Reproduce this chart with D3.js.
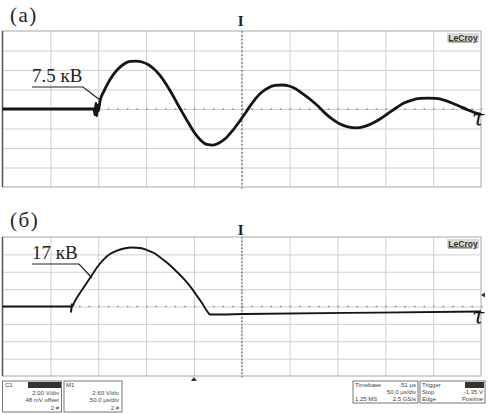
<!DOCTYPE html>
<html><head><meta charset="utf-8">
<script src="https://cdn.jsdelivr.net/npm/d3@7"></script>
<style>
html,body{margin:0;padding:0;background:#fff;}
svg{display:block;}
</style></head>
<body>
<svg id="c" width="488" height="414"></svg>
<script>
// time in µs (50 µs/div, 10 div), amplitude in screen divisions
const topT = [0, 95.61, 96.66, 97.70, 98.43, 99.27, 100.10, 101.88, 106.06, 110.24, 115.46, 120.69, 126.96, 133.23, 139.50, 145.77, 152.04, 158.31, 164.58, 170.85, 177.12, 182.34, 187.56, 193.84, 200.10, 206.37, 213.68, 219.95, 226.22, 233.54, 240.86, 247.13, 252.35, 258.61, 264.89, 271.15, 277.43, 284.73, 292.06, 299.37, 306.69, 314.0, 322.36, 329.68, 336.99, 344.30, 352.66, 361.02, 369.38, 377.74, 386.10, 394.45, 402.82, 411.18, 419.53, 427.90, 436.25, 444.62, 452.98, 461.34, 469.70, 478.06, 486.42, 494.77, 500];
const topV = [0, 0, -0.3, 0.3, -0.35, 0.2, -0.1, 0.41, 0.92, 1.33, 1.74, 2.05, 2.31, 2.44, 2.46, 2.41, 2.28, 2.05, 1.72, 1.28, 0.77, 0.31, -0.15, -0.67, -1.18, -1.56, -1.82, -1.85, -1.74, -1.49, -1.08, -0.67, -0.31, 0.15, 0.56, 0.87, 1.08, 1.21, 1.23, 1.18, 1.03, 0.77, 0.46, 0.15, -0.21, -0.51, -0.77, -0.92, -0.97, -0.90, -0.74, -0.51, -0.23, 0.05, 0.31, 0.46, 0.54, 0.56, 0.54, 0.46, 0.31, 0.13, -0.05, -0.21, -0.28];
const botT = [0, 72.62, 75.76, 80.98, 87.25, 93.52, 99.79, 106.06, 112.33, 119.64, 126.96, 135.32, 143.68, 150.99, 158.31, 165.62, 172.94, 180.25, 187.56, 194.87, 202.20, 208.45, 213.68, 216.82, 220.0, 252.35, 391.32, 500];
const botV = [0, 0, 0.32, 0.78, 1.29, 1.81, 2.33, 2.73, 3.02, 3.22, 3.34, 3.40, 3.37, 3.25, 3.08, 2.79, 2.47, 2.10, 1.70, 1.24, 0.69, 0.20, -0.26, -0.46, -0.46, -0.43, -0.35, -0.29];
const gridT = [50, 100, 150, 200, 250, 300, 350, 400, 450];
const gridV = [-3, -2, -1, 0, 1, 2, 3];
const panelLabels = ["(а)", "(б)"];
const peakLabels = ["7.5 кВ", "17 кВ"];
const infoC1 = ["C1", "2.00 V/div", "48 mV offset", "2 #"];
const infoM1 = ["M1", "2.60 V/div", "50.0 µs/div", "2 #"];
const infoTb = [["Timebase", "-51 µs"], ["", "50.0 µs/div"], ["1.25 MS", "2.5 GS/s"]];
const infoTr = [["Trigger", ""], ["Stop", "-1.35 V"], ["Edge", "Positive"]];

const svg = d3.select("#c");
const x = d3.scaleLinear().domain([0, 500]).range([2.5, 481]);
const panels = [
  {y0: 31, y1: 187, t: topT, v: topV, sw: 2.8, lab: panelLabels[0], labY: 22, Iy: 26,
   pk: peakLabels[0], pkX: 32, pkY: 82, lead: [[32, 87], [83, 87], [100, 100]], markT: null},
  {y0: 237, y1: 376, t: botT, v: botV, sw: 1.9, lab: panelLabels[1], labY: 227, Iy: 235,
   pk: peakLabels[1], pkX: 32, pkY: 259, lead: [[32, 264], [79, 264], [92, 278]], markT: 72.62}
];

panels.forEach(p => {
  const y = d3.scaleLinear().domain([-4, 4]).range([p.y1, p.y0]);
  const h = p.y1 - p.y0, w = 481 - 2.5;
  const g = svg.append("g");
  g.append("g").attr("transform", `translate(0,${p.y1})`)
    .call(d3.axisBottom(x).tickValues(gridT).tickSize(-h).tickFormat(""))
    .call(a => a.select(".domain").remove())
    .call(a => a.selectAll("line").attr("stroke", "#cfcfcf").attr("stroke-width", 1));
  g.append("g").attr("transform", `translate(2.5,0)`)
    .call(d3.axisLeft(y).tickValues(gridV).tickSize(-w).tickFormat(""))
    .call(a => a.select(".domain").remove())
    .call(a => a.selectAll("line").attr("stroke", "#cfcfcf").attr("stroke-width", 1));
  const minorT = d3.range(0, 500.01, 10);
  g.selectAll(".mh").data(minorT).join("line")
    .attr("x1", d => x(d)).attr("x2", d => x(d) + 1.5)
    .attr("y1", y(0)).attr("y2", y(0))
    .attr("stroke", "#8a8a8a").attr("stroke-width", 1.5);
  const minorV = d3.range(-4, 4.01, 0.2);
  g.selectAll(".mv").data(minorV).join("line")
    .attr("x1", x(250)).attr("x2", x(250))
    .attr("y1", d => y(d)).attr("y2", d => y(d) + 1.5)
    .attr("stroke", "#7a7a7a").attr("stroke-width", 1.5);
  g.append("rect").attr("x", 2.5).attr("y", p.y0).attr("width", w).attr("height", h)
    .attr("fill", "none").attr("stroke", "#a8a8a8").attr("stroke-width", 1);
  g.append("line").attr("x1", 2.5).attr("x2", 2.5).attr("y1", p.y0).attr("y2", p.y1)
    .attr("stroke", "#555").attr("stroke-width", 1.5);
  g.append("rect").attr("x", 447).attr("y", p.y0 + 2).attr("width", 32).attr("height", 9).attr("fill", "#d9d9d9");
  g.append("text").attr("x", 463).attr("y", p.y0 + 9.5).attr("text-anchor", "middle")
    .attr("font-family", "Liberation Sans, Arial, sans-serif").attr("font-size", 8.5).attr("font-weight", "bold")
    .attr("fill", "#333").attr("text-decoration", "underline").text("LeCroy");
  g.append("text").attr("x", x(250) - 1).attr("y", p.Iy).attr("text-anchor", "middle")
    .attr("font-family", "Liberation Serif, serif").attr("font-size", 15).attr("font-weight", "bold")
    .attr("fill", "#222").text("I");
  const data = p.t.map((t, i) => [t, p.v[i]]);
  g.append("path").datum(data)
    .attr("d", d3.line().x(d => x(d[0])).y(d => y(d[1])).curve(d3.curveMonotoneX))
    .attr("fill", "none").attr("stroke", "#151515").attr("stroke-width", p.sw).attr("stroke-linejoin", "round");
  if (p.markT !== null) {
    g.append("line").attr("x1", x(p.markT)).attr("x2", x(p.markT) - 1)
      .attr("y1", y(0) - 3).attr("y2", y(0) + 6).attr("stroke", "#151515").attr("stroke-width", 2);
  }
  g.append("text").attr("x", 478).attr("y", y(0) + 17).attr("text-anchor", "middle")
    .attr("font-family", "DejaVu Serif, serif").attr("font-style", "italic").attr("font-size", 22)
    .attr("fill", "#151515").text("τ");
  svg.append("text").attr("x", 10).attr("y", p.labY)
    .attr("font-family", "Liberation Serif, Times New Roman, serif").attr("font-size", 21)
    .attr("letter-spacing", 1.5).attr("fill", "#222").text(p.lab);
  svg.append("text").attr("x", p.pkX).attr("y", p.pkY)
    .attr("font-family", "Liberation Serif, Times New Roman, serif").attr("font-size", 19)
    .attr("fill", "#222").text(p.pk);
  svg.append("path").attr("d", d3.line()(p.lead)).attr("fill", "none")
    .attr("stroke", "#222").attr("stroke-width", 1.2);
});

svg.append("path").attr("d", "M481,295 l4,-2.5 l0,5 z").attr("fill", "#333");
svg.append("path").attr("d", `M${x(200) - 3},381 l3,-4 l3,4 z`).attr("fill", "#333");

const fs = 6;
function box(bx, by, bw, bh) {
  svg.append("rect").attr("x", bx).attr("y", by).attr("width", bw).attr("height", bh)
    .attr("fill", "#fff").attr("stroke", "#777").attr("stroke-width", 1);
}
function txt(tx, ty, s, anchor) {
  svg.append("text").attr("x", tx).attr("y", ty).attr("text-anchor", anchor || "start")
    .attr("font-family", "Liberation Sans, Arial, sans-serif").attr("font-size", fs)
    .attr("fill", "#444").text(s);
}
box(2.5, 381, 59, 31);
box(64, 381, 58, 31);
svg.append("rect").attr("x", 28).attr("y", 382).attr("width", 33).attr("height", 6).attr("fill", "#333");
infoC1.forEach((s, i) => txt(i === 0 ? 5 : 59, 387 + i * 7.5, s, i === 0 ? "start" : "end"));
infoM1.forEach((s, i) => txt(i === 0 ? 66 : 119, 387 + i * 7.5, s, i === 0 ? "start" : "end"));
box(353, 381, 65, 22);
box(420, 381, 65, 22);
svg.append("rect").attr("x", 465).attr("y", 382).attr("width", 19).attr("height", 6).attr("fill", "#333");
infoTb.forEach((r, i) => { txt(355, 387 + i * 7, r[0]); txt(416, 387 + i * 7, r[1], "end"); });
infoTr.forEach((r, i) => { txt(422, 387 + i * 7, r[0]); txt(483, 387 + i * 7, r[1], "end"); });
</script>
</body></html>
